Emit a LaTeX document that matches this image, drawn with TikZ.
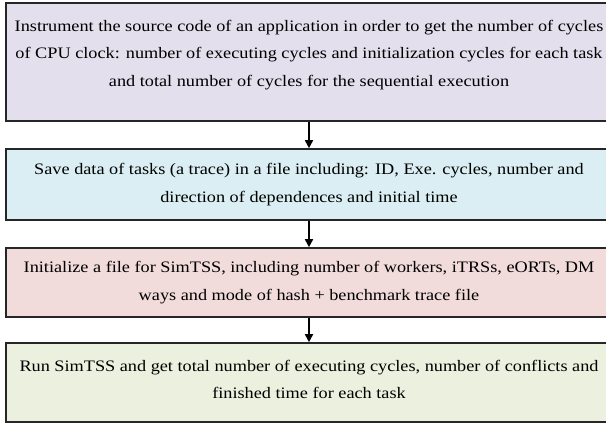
\documentclass[tikz,border=0pt]{standalone}
\usepackage{fontspec}
\setmainfont{Liberation Serif}[FakeStretch=1.14]
\usetikzlibrary{arrows.meta}
\definecolor{boxA}{HTML}{E4DFEC}
\definecolor{boxB}{HTML}{DAEEF3}
\definecolor{boxC}{HTML}{F2DCDB}
\definecolor{boxD}{HTML}{EBF1DE}
\definecolor{edge}{HTML}{262626}
\begin{document}
\begin{tikzpicture}[x=1pt,y=-1pt,
  stepbox/.style={draw=edge, line width=1.6pt, rectangle, minimum width=606pt,
    inner sep=0pt, align=center, font=\fontsize{16}{27.5}\selectfont},
  flow/.style={draw=black, line width=1.6pt, -{Triangle[length=8pt,width=8pt]}}]
\clip (0,0) rectangle (606,424);
\fill[white] (0,0) rectangle (606,424);
\node[stepbox, fill=boxA, minimum height=118pt] (s1) at (309,62)
  {Instrument the source code of an application in order to get the number of cycles\\
   of CPU clock: number of executing cycles and initialization cycles for each task\\
   and total number of cycles for the sequential execution\\[-9.5pt]\mbox{}};
\node[stepbox, fill=boxB, minimum height=71pt] (s2) at (309,184.5)
  {Save data of tasks (a trace) in a file including: ID, Exe. cycles, number and\\
   direction of dependences and initial time};
\node[stepbox, fill=boxC, minimum height=69pt] (s3) at (309,282.5)
  {Initialize a file for SimTSS, including number of workers, iTRSs, eORTs, DM\\
   ways and mode of hash + benchmark trace file};
\node[stepbox, fill=boxD, minimum height=79pt] (s4) at (309,382.5)
  {Run SimTSS and get total number of executing cycles, number of conflicts and\\
   finished time for each task\\[-21.5pt]\mbox{}};
\draw[flow] (s1.south) -- (s2.north);
\draw[flow] (s2.south) -- (s3.north);
\draw[flow] (s3.south) -- (s4.north);
\end{tikzpicture}
\end{document}
